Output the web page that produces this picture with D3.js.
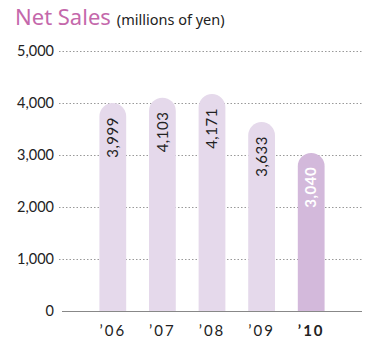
<!DOCTYPE html>
<html><head><meta charset="utf-8">
<script src="https://cdn.jsdelivr.net/npm/d3@7"></script>
<style>body{margin:0;background:#fff}svg{display:block}</style>
</head><body>
<svg id="c" width="371" height="340"></svg>
<script>
const categories = ["'06","'07","'08","'09","'10"];
const values = [3999, 4103, 4171, 3633, 3040];
const valueLabels = ["3,999","4,103","4,171","3,633","3,040"];
const yTicks = [0, 1000, 2000, 3000, 4000, 5000];
const highlight = "'10";

const svg = d3.select("#c");
const font = "Lato, 'Noto Sans', sans-serif";
const font2 = "'Noto Sans', Lato, sans-serif";
const x = d3.scaleBand().domain(categories).range([88, 336]).paddingInner(0.46).paddingOuter(0.23);
const y = d3.scaleLinear().domain([0, 5000]).range([311, 51]);

svg.append("text").attr("x", 15).attr("y", 25).attr("font-family", font2)
  .attr("font-size", 22).attr("fill", "#c468ab").text("Net Sales")
  .append("tspan").attr("font-size", 14.5).attr("fill", "#222").attr("dx", 6).text("(millions of yen)");

// gridlines
svg.append("g").selectAll("line").data(yTicks.filter(d => d > 0)).join("line")
  .attr("x1", 59).attr("x2", 362).attr("y1", d => Math.round(y(d)) + 0.5).attr("y2", d => Math.round(y(d)) + 0.5)
  .attr("stroke", "#999").attr("stroke-width", 1).attr("stroke-dasharray", "1.5,2");

// y tick labels
svg.append("g").selectAll("text").data(yTicks).join("text")
  .attr("x", 54).attr("y", d => y(d)).attr("dy", "0.35em").attr("text-anchor", "end")
  .attr("font-family", font).attr("font-size", 14.5).attr("fill", "#222")
  .text(d => d3.format(",")(d));

// bars with rounded tops
const bw = x.bandwidth(), r = bw / 2;
svg.append("g").selectAll("path").data(categories).join("path")
  .attr("d", (c, i) => {
    const x0 = x(c), top = y(values[i]), base = y(0);
    return `M${x0},${base}V${top + r}A${r},${r} 0 0 1 ${x0 + bw},${top + r}V${base}Z`;
  })
  .attr("fill", c => c === highlight ? "#d3b9db" : "#e5d9eb");

// axis line
svg.append("line").attr("x1", 62).attr("x2", 362).attr("y1", 311.5).attr("y2", 311.5)
  .attr("stroke", "#888").attr("stroke-width", 1);

// value labels
svg.append("g").selectAll("text").data(categories).join("text")
  .attr("transform", (c, i) => `translate(${x(c) + bw / 2},${y(values[i]) + 14}) rotate(-90)`)
  .attr("text-anchor", "end").attr("dy", "0.35em")
  .attr("font-family", font).attr("font-size", 15).attr("letter-spacing", 0.5)
  .attr("font-weight", c => c === highlight ? "bold" : "normal")
  .attr("fill", c => c === highlight ? "#fff" : "#222")
  .text((c, i) => valueLabels[i]);

// x labels
svg.append("g").selectAll("text").data(categories).join("text")
  .attr("x", c => x(c) + bw / 2).attr("y", 336).attr("text-anchor", "middle")
  .attr("font-family", font).attr("font-size", 15).attr("letter-spacing", 2)
  .attr("font-weight", c => c === highlight ? "bold" : "normal")
  .attr("fill", "#222").text(c => c.replace("'", "\u2019"));
</script>
</body></html>
